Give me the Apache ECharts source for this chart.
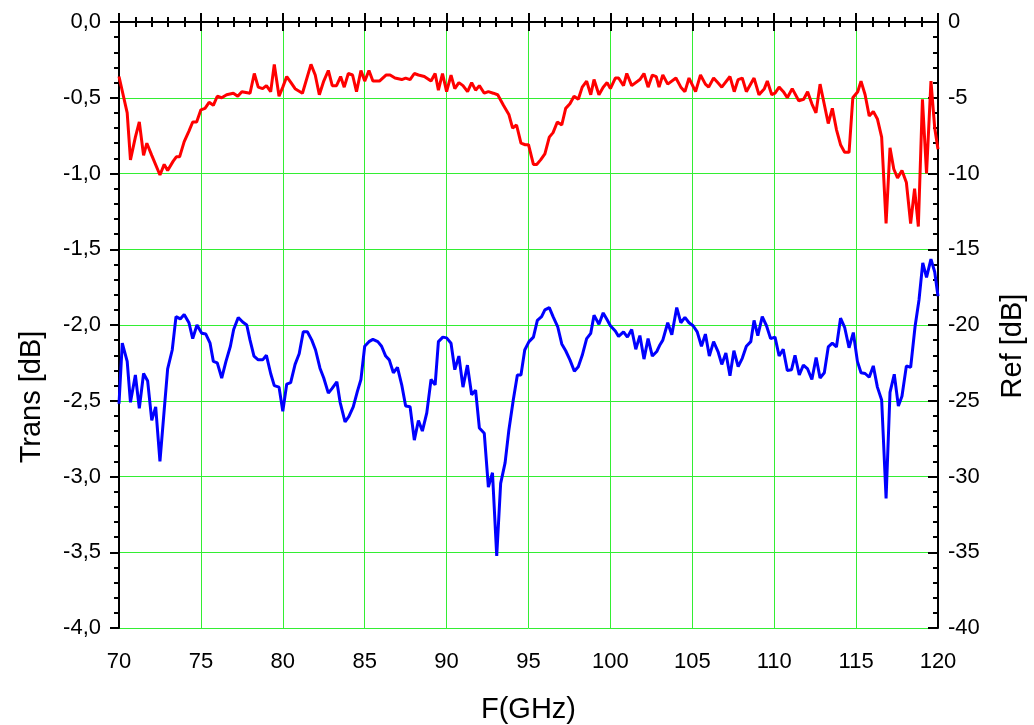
<!DOCTYPE html>
<html>
<head>
<meta charset="utf-8">
<script src="https://cdn.jsdelivr.net/npm/echarts@6/dist/echarts.min.js"></script>
<style>
  html, body { margin: 0; padding: 0; background: #fff; }
  #chart { width: 1034px; height: 725px; }
</style>
</head>
<body>
<div id="chart"></div>
<script>
// 传输曲线 (左轴, dB)
var transFreq = [70.0, 70.5, 70.7, 71.0, 71.24, 71.5, 71.7, 72.0, 72.5, 72.76, 72.97, 73.3, 73.5, 73.7, 73.98, 74.27, 74.5, 74.74, 75.0, 75.25, 75.5, 75.76, 76.0, 76.27, 76.57, 76.98, 77.25, 77.5, 78.0, 78.26, 78.5, 78.77, 79.0, 79.26, 79.48, 79.77, 80.0, 80.24, 80.5, 80.75, 81.2, 81.72, 81.98, 82.23, 82.5, 82.78, 83.02, 83.28, 83.53, 83.75, 84.0, 84.26, 84.5, 84.77, 85.0, 85.26, 85.5, 85.9, 86.3, 86.55, 86.85, 87.26, 87.5, 87.77, 88.03, 88.28, 88.64, 89.05, 89.3, 89.5, 89.75, 90.0, 90.27, 90.5, 90.75, 91.0, 91.28, 91.53, 91.77, 92.0, 92.3, 92.55, 92.85, 93.12, 93.47, 93.8, 94.03, 94.27, 94.54, 94.8, 95.0, 95.3, 95.5, 95.74, 96.0, 96.27, 96.5, 96.76, 97.03, 97.27, 97.53, 97.78, 98.04, 98.28, 98.55, 98.8, 99.0, 99.3, 99.56, 99.8, 100.0, 100.3, 100.5, 100.8, 101.0, 101.3, 101.8, 102.05, 102.3, 102.56, 102.8, 102.97, 103.2, 103.5, 104.0, 104.3, 104.55, 104.8, 105.2, 105.5, 105.8, 106.0, 106.3, 106.55, 106.8, 107.3, 107.56, 107.8, 108.05, 108.3, 108.77, 109.07, 109.4, 109.58, 109.85, 110.05, 110.3, 110.56, 110.8, 111.1, 111.5, 111.8, 112.04, 112.3, 112.55, 112.8, 113.05, 113.3, 113.55, 113.8, 114.05, 114.3, 114.57, 114.8, 115.1, 115.3, 115.55, 115.8, 116.05, 116.3, 116.56, 116.83, 117.07, 117.3, 117.53, 117.8, 118.07, 118.33, 118.57, 118.8, 119.05, 119.3, 119.57, 119.8, 120.0];
var transVal = [-0.36, -0.60, -0.91, -0.76, -0.66, -0.88, -0.80, -0.88, -1.01, -0.94, -0.98, -0.92, -0.89, -0.89, -0.79, -0.72, -0.66, -0.66, -0.58, -0.57, -0.53, -0.55, -0.49, -0.50, -0.48, -0.47, -0.49, -0.46, -0.47, -0.34, -0.43, -0.44, -0.42, -0.46, -0.28, -0.49, -0.43, -0.36, -0.40, -0.44, -0.47, -0.28, -0.35, -0.48, -0.39, -0.32, -0.42, -0.42, -0.36, -0.43, -0.34, -0.35, -0.46, -0.32, -0.39, -0.32, -0.39, -0.39, -0.35, -0.35, -0.37, -0.38, -0.37, -0.38, -0.34, -0.35, -0.36, -0.39, -0.34, -0.45, -0.34, -0.46, -0.35, -0.44, -0.40, -0.42, -0.46, -0.40, -0.45, -0.42, -0.47, -0.46, -0.47, -0.48, -0.55, -0.61, -0.70, -0.68, -0.80, -0.81, -0.81, -0.94, -0.94, -0.91, -0.87, -0.76, -0.73, -0.66, -0.68, -0.57, -0.54, -0.49, -0.51, -0.43, -0.39, -0.48, -0.38, -0.48, -0.43, -0.40, -0.44, -0.37, -0.37, -0.42, -0.34, -0.42, -0.38, -0.34, -0.43, -0.35, -0.36, -0.43, -0.35, -0.41, -0.37, -0.43, -0.46, -0.37, -0.46, -0.35, -0.41, -0.43, -0.37, -0.40, -0.43, -0.36, -0.46, -0.38, -0.37, -0.46, -0.37, -0.48, -0.44, -0.39, -0.48, -0.47, -0.43, -0.46, -0.50, -0.44, -0.52, -0.51, -0.46, -0.54, -0.60, -0.41, -0.54, -0.67, -0.57, -0.71, -0.81, -0.86, -0.86, -0.50, -0.46, -0.39, -0.48, -0.62, -0.59, -0.64, -0.76, -1.33, -0.83, -0.97, -1.03, -0.98, -1.06, -1.33, -1.10, -1.35, -0.51, -1.00, -0.39, -0.70, -0.84];

// 反射曲线 (右轴, dB)
var refFreq = [70.0, 70.2, 70.5, 70.7, 71.0, 71.24, 71.5, 71.75, 72.0, 72.24, 72.5, 72.76, 72.97, 73.25, 73.48, 73.74, 73.98, 74.27, 74.5, 74.76, 75.05, 75.3, 75.56, 75.76, 76.0, 76.27, 76.53, 76.8, 77.0, 77.28, 77.55, 77.8, 78.0, 78.24, 78.5, 78.77, 79.0, 79.26, 79.48, 79.77, 80.0, 80.24, 80.48, 80.75, 81.0, 81.25, 81.5, 81.77, 82.0, 82.27, 82.5, 82.78, 83.0, 83.3, 83.5, 83.8, 84.03, 84.3, 84.55, 84.77, 85.0, 85.26, 85.5, 85.8, 86.03, 86.28, 86.5, 86.75, 87.0, 87.26, 87.5, 87.77, 88.03, 88.28, 88.52, 88.79, 89.05, 89.3, 89.5, 89.77, 90.0, 90.27, 90.5, 90.75, 91.0, 91.27, 91.53, 91.77, 92.0, 92.3, 92.55, 92.8, 93.06, 93.3, 93.57, 93.8, 94.07, 94.32, 94.54, 94.77, 95.03, 95.3, 95.54, 95.8, 96.0, 96.27, 96.5, 96.78, 97.03, 97.27, 97.53, 97.8, 98.04, 98.28, 98.55, 98.8, 99.0, 99.3, 99.56, 99.8, 100.0, 100.3, 100.5, 100.8, 101.04, 101.3, 101.55, 101.8, 102.05, 102.3, 102.56, 102.83, 103.03, 103.2, 103.5, 103.75, 104.05, 104.3, 104.55, 104.8, 105.05, 105.3, 105.56, 105.8, 106.04, 106.3, 106.57, 106.8, 107.05, 107.3, 107.54, 107.8, 108.05, 108.3, 108.57, 108.77, 109.0, 109.27, 109.53, 109.78, 110.05, 110.3, 110.55, 110.8, 111.06, 111.27, 111.53, 111.78, 112.04, 112.3, 112.56, 112.8, 113.06, 113.3, 113.55, 113.8, 114.05, 114.3, 114.57, 114.83, 115.08, 115.3, 115.55, 115.8, 116.05, 116.3, 116.56, 116.83, 117.07, 117.33, 117.58, 117.8, 118.07, 118.33, 118.6, 118.84, 119.07, 119.3, 119.57, 119.8, 120.0];
var refVal = [-25.2, -21.2, -22.4, -25.1, -23.3, -25.5, -23.2, -23.7, -26.3, -25.4, -29.0, -25.6, -22.9, -21.65, -19.45, -19.6, -19.3, -19.85, -20.9, -20.0, -20.55, -20.6, -21.2, -22.4, -22.5, -23.5, -22.4, -21.4, -20.3, -19.5, -19.8, -20.0, -21.0, -22.05, -22.3, -22.3, -22.0, -23.2, -24.0, -24.1, -25.7, -23.9, -23.8, -22.6, -21.9, -20.45, -20.45, -21.0, -21.65, -22.85, -23.5, -24.5, -24.2, -23.75, -25.1, -26.4, -26.05, -25.4, -24.4, -23.6, -21.4, -21.1, -20.95, -21.1, -21.4, -22.05, -22.3, -23.15, -22.8, -23.95, -25.35, -25.4, -27.6, -26.3, -27.0, -25.8, -23.6, -23.95, -21.1, -20.8, -20.85, -21.2, -22.95, -22.05, -24.1, -22.65, -24.6, -24.3, -26.8, -27.15, -30.7, -29.75, -35.25, -30.45, -29.1, -26.95, -24.95, -23.3, -23.3, -21.65, -21.1, -20.8, -19.7, -19.45, -19.0, -18.85, -19.45, -20.1, -21.25, -21.7, -22.3, -23.05, -22.75, -22.0, -20.9, -20.55, -19.35, -19.95, -19.2, -19.65, -20.05, -20.4, -20.75, -20.45, -20.8, -20.3, -21.6, -20.7, -22.25, -20.9, -22.05, -21.75, -21.3, -21.0, -19.85, -20.65, -18.85, -19.85, -19.5, -19.85, -20.05, -20.45, -21.4, -20.6, -22.05, -21.1, -21.75, -22.6, -21.85, -23.35, -21.7, -22.75, -22.2, -21.4, -21.1, -19.7, -20.7, -19.45, -20.05, -20.9, -20.8, -22.05, -21.6, -23.0, -22.95, -22.0, -23.3, -22.65, -22.9, -23.6, -22.15, -23.5, -23.15, -21.45, -21.2, -21.45, -19.55, -20.15, -21.5, -20.5, -22.4, -23.15, -23.2, -23.45, -22.7, -24.1, -24.95, -31.45, -24.45, -23.25, -25.35, -24.7, -22.7, -22.8, -20.1, -18.35, -15.9, -16.85, -15.65, -16.5, -18.1];

function pairs(xs, ys) {
  return xs.map(function (x, i) { return [x, ys[i]] })
}

var chart = echarts.init(document.getElementById('chart'))
var fontFamily = "'Liberation Sans', Arial, sans-serif"
var tickStyle = {color: '#000', width: 2}

chart.setOption({
  animation: false,
  textStyle: {fontFamily: fontFamily},
  grid: {left: 119, right: 96, top: 22, bottom: 97, containLabel: false, outerBoundsMode: 'none'},
  xAxis: [
    {
      type: 'value',
      min: 70,
      max: 120,
      interval: 5,
      name: 'F(GHz)',
      nameLocation: 'middle',
      nameGap: 67,
      nameTextStyle: {fontSize: 29, color: '#000', fontFamily: fontFamily},
      axisLine: {lineStyle: {color: '#000', width: 2}},
      axisTick: {length: 9, lineStyle: tickStyle},
      minorTick: {show: true, splitNumber: 5, length: 5, lineStyle: tickStyle},
      axisLabel: {fontSize: 22, color: '#000', margin: 23},
      splitLine: {show: true, lineStyle: {color: '#33ee33', width: 1}},
    },
    {
      type: 'value',
      position: 'top',
      min: 70,
      max: 120,
      interval: 5,
      axisLine: {lineStyle: {color: '#000', width: 2}},
      axisTick: {length: 9, lineStyle: tickStyle},
      minorTick: {show: true, splitNumber: 5, length: 5, lineStyle: tickStyle},
      axisLabel: {show: false},
      splitLine: {show: false},
    }
  ],
  yAxis: [
    {
      type: 'value',
      min: -4,
      max: 0,
      interval: 0.5,
      name: 'Trans [dB]',
      nameLocation: 'middle',
      nameGap: 73,
      // 标题在参考图中偏下
      nameTextStyle: {fontSize: 29, color: '#000', fontFamily: fontFamily, padding: [0, 144, 0, 0]},
      axisLine: {show: true, lineStyle: {color: '#000', width: 2}},
      axisTick: {show: true, length: 9, lineStyle: tickStyle},
      minorTick: {show: true, splitNumber: 5, length: 5, lineStyle: tickStyle},
      axisLabel: {
        fontSize: 22, color: '#000', margin: 18,
        formatter: function (v) { return v.toFixed(1).replace('.', ',') }
      },
      splitLine: {show: true, lineStyle: {color: '#33ee33', width: 1}},
    },
    {
      type: 'value',
      position: 'right',
      min: -40,
      max: 0,
      interval: 5,
      name: 'Ref [dB]',
      nameLocation: 'middle',
      nameGap: 60,
      nameTextStyle: {fontSize: 29, color: '#000', fontFamily: fontFamily, padding: [0, 42, 0, 0]},
      axisLine: {show: true, lineStyle: {color: '#000', width: 2}},
      axisTick: {show: true, inside: true, length: 10, lineStyle: tickStyle},
      minorTick: {show: true, splitNumber: 5, length: 5, lineStyle: tickStyle},
      axisLabel: {fontSize: 22, color: '#000', margin: 10},
      splitLine: {show: false},
    }
  ],
  series: [
    {
      name: 'Trans',
      type: 'line',
      yAxisIndex: 0,
      data: pairs(transFreq, transVal),
      showSymbol: false,
      lineStyle: {color: '#ff0000', width: 3},
    },
    {
      name: 'Ref',
      type: 'line',
      yAxisIndex: 1,
      data: pairs(refFreq, refVal),
      showSymbol: false,
      lineStyle: {color: '#0000ff', width: 3},
    }
  ]
})
</script>
</body>
</html>
